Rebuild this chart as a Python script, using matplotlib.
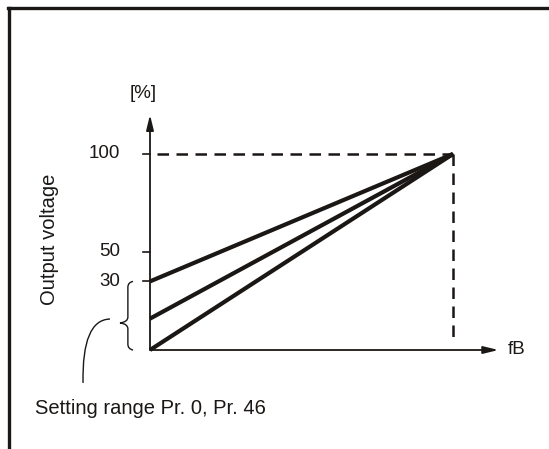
import matplotlib.pyplot as plt
from matplotlib.path import Path
from matplotlib.patches import PathPatch

# Kimeneti feszültség - frekvencia (sematikus ábra)
fb_end = 100          # fB alapfrekvencia (100 %)
v_end = 100           # kimeneti feszültség fB-nél [%]
v_start = [35, 16, 0]  # kezdő feszültségek 0 Hz-en (ábráról leolvasva)
ytick_pos = [35, 50, 100]
ytick_labels = ["30", "50", "100"]

plt.rcParams['font.family'] = ['Liberation Sans', 'DejaVu Sans']
fs = 14.5     # hosszú feliratok
fs_t = 13.5   # osztásfeliratok

fig = plt.figure(figsize=(5.49, 4.49), dpi=100)
ax = fig.add_axes([0, 0, 1, 1])
# pixel -> adat leképezés: origó (150, 350) px
sx, sy = 3.03, 1.96
ax.set_xlim(-150 / sx, (549 - 150) / sx)
ax.set_ylim(-(449 - 350) / sy, 350 / sy)
ax.axis("off")

ink = "#1a1715"

# keret (felső és bal oldal)
fig.add_artist(plt.Line2D([8 / 549, 1], [1 - 7.5 / 449] * 2, color=ink, lw=2.4))
fig.add_artist(plt.Line2D([9 / 549] * 2, [0, 1 - 7.5 / 449], color=ink, lw=2.4))

# tengelyek nyíllal
ax.annotate("", xy=(115, 0), xytext=(0, 0),
            arrowprops=dict(arrowstyle="-|>,head_length=0.9,head_width=0.22",
                            color=ink, lw=1.3, shrinkA=0, shrinkB=0))
ax.annotate("", xy=(0, 120), xytext=(0, 0),
            arrowprops=dict(arrowstyle="-|>,head_length=0.9,head_width=0.22",
                            color=ink, lw=1.3, shrinkA=0, shrinkB=0))

# y osztások
for p, lab in zip(ytick_pos, ytick_labels):
    ax.plot([-2.4, 0], [p, p], color=ink, lw=1.2)
    ax.text(-9.9, p, lab, ha="right", va="center", fontsize=fs_t, color=ink)

# szaggatott segédvonalak
ax.plot([2.3, fb_end], [v_end, v_end], color=ink, lw=1.8, ls=(0, (4.6, 3)))
ax.plot([fb_end, fb_end], [v_end, 3], color=ink, lw=1.8, ls=(0, (4.6, 3)))

# V/f egyenesek
for v0 in v_start:
    ax.plot([0, fb_end], [v0, v_end], color=ink, lw=3.0, solid_capstyle="butt")

# kapcsos zárójel
bx, tx, px = -7.3, -5.6, -9.9
top, bot, mid = v_start[0], v_start[-1], 13.8
verts = [(tx, top), (bx, top - 0.5), (bx, top - 3),
         (bx, mid + 3),
         (bx, mid + 0.5), (px, mid),
         (bx, mid - 0.5), (bx, mid - 3),
         (bx, bot + 3),
         (bx, bot + 0.5), (tx, bot)]
codes = [Path.MOVETO, Path.CURVE3, Path.CURVE3,
         Path.LINETO,
         Path.CURVE3, Path.CURVE3,
         Path.CURVE3, Path.CURVE3,
         Path.LINETO,
         Path.CURVE3, Path.CURVE3]
ax.add_patch(PathPatch(Path(verts, codes), fill=False, color=ink, lw=1.0))

# mutató ív
lead = Path([(-13.2, 15.8), (-22.5, 15.5), (-22.1, -16.8)],
            [Path.MOVETO, Path.CURVE3, Path.CURVE3])
ax.add_patch(PathPatch(lead, fill=False, color=ink, lw=1.0))

# feliratok
ax.text(-2.3, (350 - 93) / sy, "[%]", ha="center", va="center", fontsize=fs_t, color=ink)
ax.text((508 - 150) / sx, 0, "fB", ha="left", va="center", fontsize=fs_t, color=ink)
ax.text((50 - 150) / sx, (350 - 239) / sy, "Output voltage", rotation=90,
        ha="center", va="center", fontsize=fs, color=ink)
ax.text((35 - 150) / sx, (350 - 408) / sy, "Setting range Pr. 0, Pr. 46",
        ha="left", va="center", fontsize=fs, color=ink)

plt.savefig("out.png", dpi=100)
plt.close()
